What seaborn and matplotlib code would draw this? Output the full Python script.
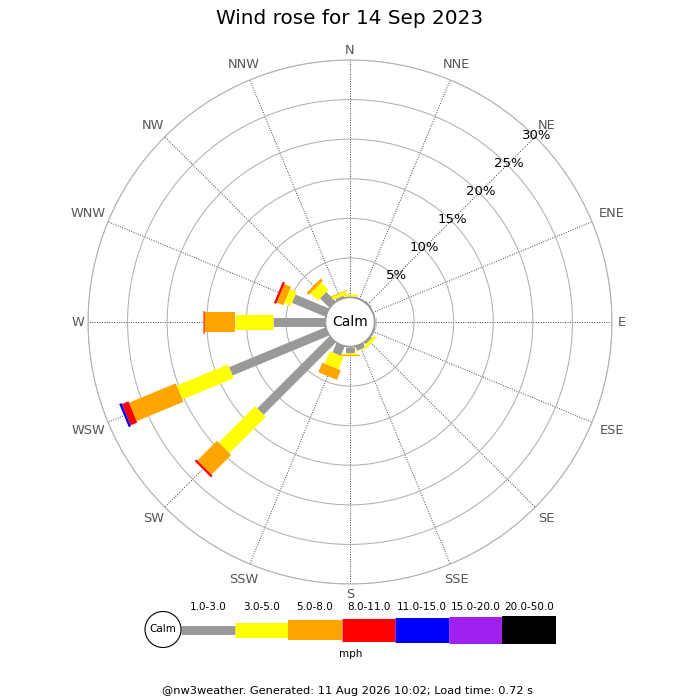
import numpy as np
import pandas as pd
import matplotlib
matplotlib.use("Agg")
import matplotlib.pyplot as plt
import seaborn as sns
from matplotlib.patches import Circle

# ---------------- data ----------------
directions = ['N', 'NNE', 'NE', 'ENE', 'E', 'ESE', 'SE', 'SSE',
              'S', 'SSW', 'SW', 'WSW', 'W', 'WNW', 'NW', 'NNW']
speed_classes = ['1.0-3.0', '3.0-5.0', '5.0-8.0', '8.0-11.0',
                 '11.0-15.0', '15.0-20.0', '20.0-50.0']
class_colors = ['#999999', '#ffff00', '#ffa500', '#ff0000',
                '#0000ff', '#a020f0', '#000000']
# percentage of time per direction, per speed class (mph)
pct_1_3 = [0.2, 0.15, 0.2, 0.1, 0.15, 0.2, 0.3, 0.6, 0.8, 1.3, 12.9, 13.2, 6.6, 4.6, 1.7, 0.3]
pct_3_5 = [0.3, 0, 0, 0, 0, 0, 0.4, 0.1, 0.25, 1.7, 6.5, 7.0, 4.8, 0.9, 1.3, 0.4]
pct_5_8 = [0, 0, 0, 0, 0, 0, 0, 0, 0.1, 1.3, 3.5, 6.4, 3.9, 0.9, 0.4, 0.1]
pct_8_11 = [0, 0, 0, 0, 0, 0, 0, 0, 0, 0, 0.3, 0.9, 0.2, 0.3, 0, 0]
pct_11_15 = [0, 0, 0, 0, 0, 0, 0, 0, 0, 0, 0, 0.3, 0, 0, 0, 0]
pct_15_20 = [0] * 16
pct_20_50 = [0] * 16
ring_values = [5, 10, 15, 20, 25, 30]
title = 'Wind rose for 14 Sep 2023'
footer = '@nw3weather. Generated: 11 Aug 2026 10:02; Load time: 0.72 s'
unit_label = 'mph'

# ---------------- style ----------------
sns.set_style('white')
plt.rcParams['font.family'] = ['DejaVu Sans']
plt.rcParams['text.color'] = 'black'

bar_width_px = [9, 15, 20, 23, 25, 27, 28]
bar_width_pt = [w * 0.72 for w in bar_width_px]
palette = dict(zip(speed_classes, class_colors))
sizes = dict(zip(speed_classes, bar_width_pt))

fig = plt.figure(figsize=(7, 7), dpi=100)
W = H = 700
CX, CY = 350, 322
R_PX = 262
HOLE_PX = 24.5
rmax = ring_values[-1]
origin = -HOLE_PX / (R_PX - HOLE_PX) * rmax

ax = fig.add_axes([(CX - R_PX) / W, (H - CY - R_PX) / H, 2 * R_PX / W, 2 * R_PX / H],
                  projection='polar')
ax.set_theta_zero_location('N')
ax.set_theta_direction(-1)

# build long table of radial segments
all_classes = [pct_1_3, pct_3_5, pct_5_8, pct_8_11, pct_11_15, pct_15_20, pct_20_50]
rows = []
for i, d in enumerate(directions):
    theta = np.deg2rad(i * 360 / len(directions))
    cum = 0.0
    for c, vals in zip(speed_classes, all_classes):
        v = vals[i]
        if v > 0:
            seg = f'{d}|{c}'
            rows.append(dict(theta=theta, r=cum, cls=c, seg=seg))
            rows.append(dict(theta=theta, r=cum + v, cls=c, seg=seg))
            cum += v
df = pd.DataFrame(rows)

sns.lineplot(data=df, x='theta', y='r', hue='cls', size='cls', units='seg',
             estimator=None, sort=False, hue_order=speed_classes,
             size_order=speed_classes, palette=palette, sizes=sizes,
             legend=False, ax=ax, solid_capstyle='butt', zorder=3)

ax.set_thetalim(0, 2 * np.pi)
ax.set_ylim(0, rmax)
ax.set_rorigin(origin)
ax.set_xlabel('')
ax.set_ylabel('')
ax.set_xticks(np.deg2rad(np.arange(len(directions)) * 360 / len(directions)))
ax.set_xticklabels([])
ax.set_yticks(ring_values)
ax.set_yticklabels([])
ax.tick_params(length=0)
ax.xaxis.grid(True, color='#444444', linestyle=(0, (1, 1.5)), linewidth=0.7)
ax.yaxis.grid(True, color='#b0b0b0', linestyle='-', linewidth=0.75)
ax.spines['polar'].set_color('#b0b0b0')
ax.spines['polar'].set_linewidth(0.75)
if 'inner' in ax.spines:
    ax.spines['inner'].set_visible(False)

# calm circle
ax.add_patch(Circle((0.5, 0.5), HOLE_PX / (2 * R_PX), transform=ax.transAxes,
                    facecolor='white', edgecolor='#999999', lw=1.0,
                    zorder=6, clip_on=False))
ax.text(0.5, 0.5, 'Calm', transform=ax.transAxes, ha='center', va='center',
        fontsize=10, color='black', zorder=7)

# percentage labels along NE
for v in ring_values:
    ax.text(np.deg2rad(45), v + 0.2, f'{v}%', ha='center', va='center',
            fontsize=9.5, color='black', zorder=4)


def px_to_r(px):
    return px / R_PX * (rmax - origin) + origin


# direction labels
for i, d in enumerate(directions):
    th = np.deg2rad(i * 360 / len(directions))
    rpx = 272 + 4.5 * (len(d) - 1) * abs(np.sin(th)) + (3 if len(d) > 1 else 0)
    ax.text(th, px_to_r(rpx), d, ha='center', va='center', fontsize=9.3,
            color='#555555', clip_on=False)

# ---------------- legend ----------------
k = 7 / 375.0
LX0, LX1, LY0, LY1 = 140, 560, 600, 660
lax = fig.add_axes([LX0 / W, (H - LY1) / H, (LX1 - LX0) / W, (LY1 - LY0) / H])
yc = 629.5
leg_rows = []
for j, c in enumerate(speed_classes):
    leg_rows.append(dict(x=j, y=0, cls=c))
    leg_rows.append(dict(x=j + 1, y=0, cls=c))
ldf = pd.DataFrame(leg_rows)
sns.lineplot(data=ldf, x='x', y='y', hue='cls', size='cls', units='cls',
             estimator=None, sort=False, hue_order=speed_classes,
             size_order=speed_classes, palette=palette, sizes=sizes,
             legend=False, ax=lax, solid_capstyle='butt')
lax.set_xlim((LX0 - 181) * k, (LX1 - 181) * k)
lax.set_ylim(-(LY1 - yc) * k, (yc - LY0) * k)
lax.axis('off')
for j, c in enumerate(speed_classes):
    lax.text(j + 0.5, (yc - 607.5) * k, c, ha='center', va='center',
             fontsize=7.5, color='black')
lax.add_patch(Circle(((163 - 181) * k, 0), 18 * k, facecolor='white',
                     edgecolor='black', lw=0.8, zorder=5, clip_on=False))
lax.text((163 - 181) * k, 0, 'Calm', ha='center', va='center', fontsize=7.5,
         color='black', zorder=6)

fig.text(351 / W, 1 - 654 / H, unit_label, ha='center', va='center',
         fontsize=7.5, color='black')
fig.text(348 / W, 1 - 691 / H, footer, ha='center', va='center',
         fontsize=8.2, color='black')
fig.text(0.5, 1 - 18 / H, title, ha='center', va='center', fontsize=14.4,
         color='black')

fig.savefig('out.png', dpi=100, facecolor='white')
